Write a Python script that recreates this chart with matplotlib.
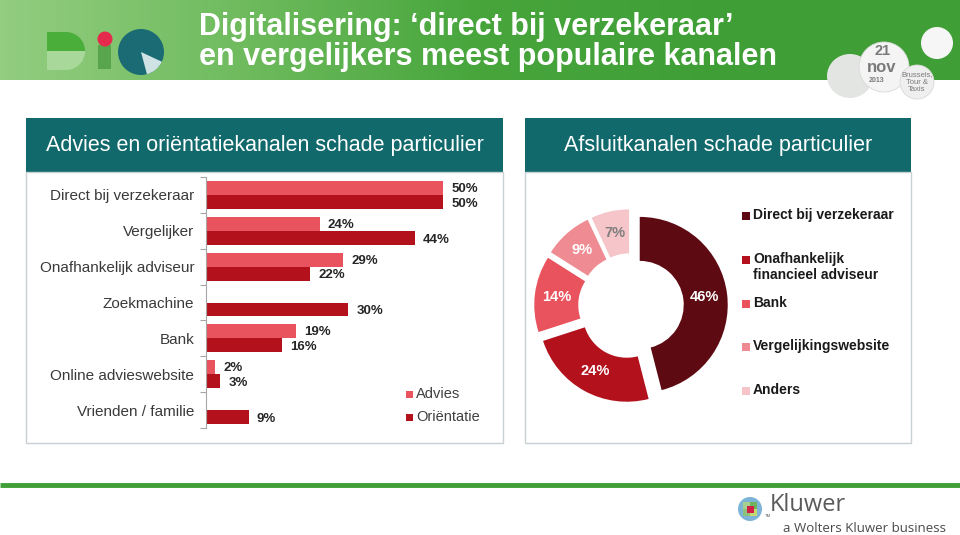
import numpy as np
import matplotlib
matplotlib.use('Agg')
import matplotlib.pyplot as plt
from matplotlib.patches import Rectangle, Circle, Wedge, Ellipse
from matplotlib.colors import LinearSegmentedColormap

plt.rcParams['font.family'] = ['Liberation Sans', 'DejaVu Sans']

# --- data ---
channels = ['Direct bij verzekeraar', 'Vergelijker', 'Onafhankelijk adviseur',
            'Zoekmachine', 'Bank', 'Online advieswebsite', 'Vrienden / familie']
advies = [50, 24, 29, np.nan, 19, 2, np.nan]
orientatie = [50, 44, 22, 30, 16, 3, 9]
bar_series = ['Advies', 'Oriëntatie']

close_labels = ['Direct bij verzekeraar', 'Onafhankelijk\nfinancieel adviseur',
                'Bank', 'Vergelijkingswebsite', 'Anders']
close_share = [46, 24, 14, 9, 7]

title_lines = ['Digitalisering: \u2018direct bij verzekeraar\u2019',
               'en vergelijkers meest populaire kanalen']
left_header = 'Advies en oriëntatiekanalen schade particulier'
right_header = 'Afsluitkanalen schade particulier'

# --- colours ---
ADV = '#e8535e'
ORI = '#b3121d'
pie_colors = ['#5e0a12', '#b3121d', '#e8535e', '#ef8c93', '#f6c5c9']
TEAL = '#11696b'
GREEN = '#3f9f36'
W, H = 960, 535

fig = plt.figure(figsize=(9.6, 5.35), dpi=100)

# background layer in pixel coordinates
bg = fig.add_axes([0, 0, 1, 1])
bg.axis('off')

band_cmap = LinearSegmentedColormap.from_list(
    'band', ['#93cd80', '#6fbb5e', '#47a53c', GREEN, GREEN])
bg.imshow(np.linspace(0, 1, 256)[None, :], extent=(0, W, 80, 0),
          cmap=band_cmap, aspect='auto', zorder=0)

for i, line in enumerate(title_lines):
    bg.text(199, 35 + i * 30, line, color='white', fontsize=22,
            fontweight='bold', ha='left', va='baseline')

# BIC logo
bg.add_patch(Rectangle((47, 32), 19, 19, color='#4aae3b', lw=0))
bg.add_patch(Wedge((66, 51), 19, -90, 0, color='#4aae3b', lw=0))
bg.add_patch(Rectangle((47, 51), 19, 19, color='#a9d89b', lw=0))
bg.add_patch(Wedge((66, 51), 19, 0, 90, color='#a9d89b', lw=0))
bg.add_patch(Rectangle((98, 45), 13, 24, color='#58a54b', lw=0))
bg.add_patch(Circle((105, 39), 7.5, color='#e62a4d', lw=0))
bg.add_patch(Circle((141, 52), 23, color='#1b6b74', lw=0))
bg.add_patch(Wedge((141, 52), 23, 25, 75, color='#cfe3e5', lw=0))

# event badge
bg.add_patch(Ellipse((850, 76), 46, 44, color='#e3e5e3', lw=0))
bg.add_patch(Circle((937, 43), 16, color='#f6f6f6', lw=0))
bg.add_patch(Circle((884, 67), 25, color='#f4f4f4', ec='#d9d9d9', lw=0.6))
bg.add_patch(Circle((917, 82), 17, color='#efefef', ec='#d9d9d9', lw=0.6))
bg.text(883, 51, '21', color='#7a7a7a', fontsize=10.5, fontweight='bold',
        ha='center', va='center')
bg.text(882, 67, 'nov', color='#7a7a7a', fontsize=12, fontweight='bold',
        ha='center', va='center')
bg.text(877, 80, '2013', color='#7a7a7a', fontsize=5, fontweight='bold',
        ha='center', va='center')
bg.text(917, 82, 'Brussels,\nTour &\nTaxis', color='#7a7a7a', fontsize=5.5,
        ha='center', va='center', linespacing=1.1)

# panel headers and frames
for x0, w, txt in [(26, 477, left_header), (525, 386, right_header)]:
    bg.add_patch(Rectangle((x0, 118), w, 54, color=TEAL, lw=0))
    bg.add_patch(Rectangle((x0, 172), w, 271, fill=False, ec='#c8d0d3', lw=1))
    bg.text(x0 + w / 2, 146, txt, color='white', fontsize=15.5,
            ha='center', va='center')

# footer
bg.plot([0, W], [485, 485], color=GREEN, lw=3.5, solid_capstyle='butt')
bg.add_patch(Circle((750, 509), 12, color='#7db3d6', lw=0))
for dx, dy, c in [(-7, -7, '#a6cf8f'), (0, -7, '#6fb35a'), (-7, 0, '#8cc27a'),
                  (0, 0, '#c4d96f'), (-3.5, -3.5, '#cf1f45')]:
    bg.add_patch(Rectangle((750 + dx, 509 + dy), 7, 7, color=c, lw=0))
bg.text(770, 505, 'Kluwer', color='#5a5a5a', fontsize=17,
        family='Open Sans', ha='left', va='center')
bg.text(765, 516, 'TM', color='#5a5a5a', fontsize=3, ha='left', va='center')
bg.text(783, 528, 'a Wolters Kluwer business', color='#4a4a4a', fontsize=9.5,
        family='Open Sans', ha='left', va='center')

bg.set_xlim(0, W)
bg.set_ylim(H, 0)

# --- grouped horizontal bars ---
px = 4.74  # pixels per percent
ax = fig.add_axes([206 / W, 1 - 428 / H, 60 * px / W, 251 / H])
y = np.arange(len(channels))
bh = 0.39
ax.barh(y - bh / 2, advies, height=bh, color=ADV, lw=0, label=bar_series[0])
ax.barh(y + bh / 2, orientatie, height=bh, color=ORI, lw=0, label=bar_series[1])

for i in y:
    if not np.isnan(advies[i]):
        ax.text(advies[i] + 1.7, i - bh / 2 + 0.03, f'{advies[i]:.0f}%',
                fontsize=9.5, fontweight='bold', color='#262626', va='center')
    ax.text(orientatie[i] + 1.7, i + bh / 2 + 0.05, f'{orientatie[i]}%',
            fontsize=9.5, fontweight='bold', color='#262626', va='center')

ax.set_xlim(0, 60)
ax.set_ylim(len(channels) - 0.5, -0.5)
ax.set_yticks(y)
ax.set_yticklabels(channels, fontsize=11, color='#3a3a3a')
ax.set_yticks(np.arange(len(channels) + 1) - 0.5, minor=True)
ax.tick_params(axis='y', which='major', length=0, pad=8.5)
ax.tick_params(axis='y', which='minor', length=4, color='#a6a6a6', width=0.8)
ax.set_xticks([])
for s in ['top', 'right', 'bottom']:
    ax.spines[s].set_visible(False)
ax.spines['left'].set_color('#a6a6a6')
ax.patch.set_alpha(0)

# bar legend
for k, (name, col) in enumerate(zip(bar_series, [ADV, ORI])):
    yy = 394 + k * 23
    bg.add_patch(Rectangle((406, yy - 3.5), 7, 7, color=col, lw=0))
    bg.text(416, yy, name, fontsize=10.5, color='#404040', va='center')

# --- donut ---
cx, cy, r = 631, 306, 88
half = 120
axp = fig.add_axes([(cx - half) / W, 1 - (cy + half) / H, 2 * half / W, 2 * half / H])
wedges, texts, autotexts = axp.pie(
    close_share, colors=pie_colors, startangle=90, counterclock=False,
    explode=[0.1] * len(close_share), radius=1,
    wedgeprops=dict(width=0.5, linewidth=0),
    autopct=lambda p: f'{p:.0f}%', pctdistance=0.745,
    textprops=dict(fontsize=10.5, fontweight='bold', color='white'))
autotexts[-1].set_color('#7f7f7f')
axp.set_xlim(-half / r, half / r)
axp.set_ylim(-half / r, half / r)
axp.set_aspect('equal')
axp.axis('off')

# donut legend
legend_y = [216, 260, 304, 347, 391]
for lab, col, yy in zip(close_labels, pie_colors, legend_y):
    bg.add_patch(Rectangle((742, yy - 4), 8, 8, color=col, lw=0))
    bg.text(753, yy - 8, lab, fontsize=10, fontweight='bold', color='#1a1a1a',
            va='top', linespacing=1.15)

fig.savefig('out.png', dpi=100)
